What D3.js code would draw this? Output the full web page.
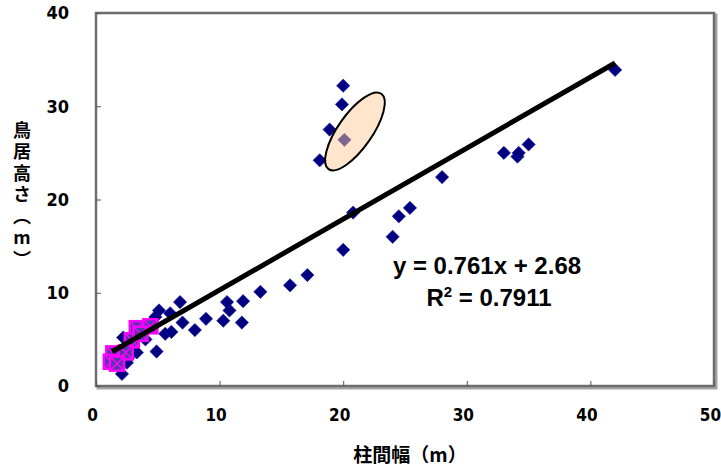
<!DOCTYPE html>
<html>
<head>
<meta charset="utf-8">
<script src="https://cdn.jsdelivr.net/npm/d3@7/dist/d3.min.js"></script>
<style>
  html, body { margin: 0; padding: 0; background: #fff; }
  svg { display: block; }
  .vtitle { writing-mode: vertical-rl; text-orientation: upright; }
</style>
</head>
<body>
<svg id="chart" width="721" height="470"></svg>
<script>
// Torii dimensions: column spacing (m) vs. height (m)
const shrineWidth  = [42.0, 33.0, 34.1, 34.2, 35.0, 28.0, 25.4, 24.5, 24.0, 20.8, 20.0,
                      20.0, 19.9, 18.9, 20.1, 18.1,
                      17.1, 15.7, 13.3, 11.9, 11.8, 10.8, 10.6, 10.3, 8.9, 8.0, 7.0, 6.8,
                      6.0, 5.1, 4.8, 5.6, 6.1, 4.9, 3.3, 2.2, 2.1, 2.6, 1.8, 3.0, 4.0, 1.6, 2.5];
const shrineHeight = [33.9, 25.0, 24.6, 25.0, 25.9, 22.4, 19.1, 18.2, 16.0, 18.6, 14.6,
                      32.2, 30.2, 27.5, 26.4, 24.2,
                      11.9, 10.8, 10.1, 9.1, 6.8, 8.1, 9.0, 7.0, 7.2, 6.0, 6.8, 9.0,
                      7.8, 8.1, 7.4, 5.6, 5.8, 3.7, 3.6, 5.2, 1.3, 3.0, 2.3, 4.3, 5.0, 2.8, 2.5];

// Second group, drawn with crossed square markers
const groupBWidth  = [3.3, 4.4, 1.4, 1.2, 2.9, 2.4, 1.7, 3.6];
const groupBHeight = [6.2, 6.4, 3.5, 2.6, 4.9, 3.6, 2.4, 5.6];

// Linear fit
const slope = 0.761;
const intercept = 2.68;
const rSquared = 0.7911;

const xTicks = [0, 10, 20, 30, 40, 50];
const yTicks = [0, 10, 20, 30, 40];

// Highlighted outlier group (centre in data units)
const highlightCenter = [20.95, 27.3];

const xLabel = "柱間幅（m）";
const yLabel = "鳥居高さ（m）";

const svg = d3.select("#chart");
const plot = { left: 96, right: 714, top: 13, bottom: 386 };

const x = d3.scaleLinear().domain([0, 50]).range([plot.left, plot.right]);
const y = d3.scaleLinear().domain([0, 40]).range([plot.bottom, plot.top]);

const tickFont = "'DejaVu Sans Condensed', 'Liberation Sans', Arial, sans-serif";

// Plot frame with drop shadow
svg.append("rect")
  .attr("x", plot.left + 2).attr("y", plot.top + 2)
  .attr("width", plot.right - plot.left).attr("height", plot.bottom - plot.top)
  .attr("fill", "none").attr("stroke", "#a6a6a6").attr("stroke-width", 3);
svg.append("rect")
  .attr("x", plot.left).attr("y", plot.top)
  .attr("width", plot.right - plot.left).attr("height", plot.bottom - plot.top)
  .attr("fill", "#fff").attr("stroke", "#6e6e6e").attr("stroke-width", 2.5);

// Axes (ticks inside the frame)
const xAxis = d3.axisBottom(x).tickValues(xTicks).tickSize(-5).tickFormat(d3.format("d"));
const yAxis = d3.axisLeft(y).tickValues(yTicks).tickSize(-5).tickFormat(d3.format("d"));

const gx = svg.append("g").attr("transform", `translate(0,${plot.bottom})`).call(xAxis);
gx.select(".domain").remove();
gx.selectAll(".tick line").attr("stroke", "#555").attr("stroke-width", 1);
gx.selectAll(".tick text")
  .attr("y", 23).attr("dy", "0.71em").attr("dx", -4)
  .attr("font-family", tickFont)
  .attr("font-weight", "bold").attr("font-size", 17).attr("fill", "#000");

const gy = svg.append("g").attr("transform", `translate(${plot.left},0)`).call(yAxis);
gy.select(".domain").remove();
gy.selectAll(".tick line").attr("stroke", "#555").attr("stroke-width", 1);
gy.selectAll(".tick text")
  .attr("x", -27)
  .attr("font-family", tickFont)
  .attr("font-weight", "bold").attr("font-size", 18).attr("fill", "#000");

// Diamonds
const diamond = d3.symbol().type(d3.symbolSquare).size(88);
svg.append("g").selectAll("path")
  .data(d3.zip(shrineWidth, shrineHeight))
  .join("path")
  .attr("d", diamond)
  .attr("transform", d => `translate(${x(d[0])},${y(d[1])}) rotate(45)`)
  .attr("fill", "#000080")
  .attr("stroke", "#1a1a9a").attr("stroke-width", 0.6);

// Crossed squares
const sq = 14;
const gB = svg.append("g").selectAll("g")
  .data(d3.zip(groupBWidth, groupBHeight))
  .join("g")
  .attr("transform", d => `translate(${x(d[0])},${y(d[1])})`);
gB.append("rect")
  .attr("x", -sq / 2).attr("y", -sq / 2).attr("width", sq).attr("height", sq)
  .attr("fill", "#4b3aa8").attr("stroke", "#ff00ff").attr("stroke-width", 2.5);
gB.append("path")
  .attr("d", `M${-sq/2},${-sq/2}L${sq/2},${sq/2}M${sq/2},${-sq/2}L${-sq/2},${sq/2}`)
  .attr("stroke", "#ff00ff").attr("stroke-width", 1.5);

// Fit line across the data range
const allX = shrineWidth.concat(groupBWidth);
const x0 = 1.3, x1 = d3.max(allX);
svg.append("line")
  .attr("x1", x(x0)).attr("y1", y(slope * x0 + intercept))
  .attr("x2", x(x1)).attr("y2", y(slope * x1 + intercept))
  .attr("stroke", "#000").attr("stroke-width", 5);

// Highlight ellipse around the outlier group
svg.append("ellipse")
  .attr("cx", 0).attr("cy", 0).attr("rx", 46).attr("ry", 17)
  .attr("transform", `translate(${x(highlightCenter[0])},${y(highlightCenter[1])}) rotate(-55)`)
  .attr("fill", "#ffcc99").attr("fill-opacity", 0.5)
  .attr("stroke", "#000").attr("stroke-width", 2);

// Equation and R²
const eq = svg.append("g")
  .attr("font-family", "'Liberation Sans', Arial, sans-serif")
  .attr("font-weight", "bold").attr("font-size", 24).attr("fill", "#000")
  .attr("text-anchor", "middle");
eq.append("text").attr("x", 487).attr("y", 274)
  .text(`y = ${slope}x + ${intercept}`);
const r2 = eq.append("text").attr("x", 489).attr("y", 306);
r2.append("tspan").text("R");
r2.append("tspan").attr("dy", -9).attr("font-size", 15).text("2");
r2.append("tspan").attr("dy", 9).text(` = ${rSquared}`);

// Axis titles
svg.append("text")
  .attr("x", 410).attr("y", 462)
  .attr("text-anchor", "middle")
  .attr("font-family", "'Noto Sans CJK JP', sans-serif")
  .attr("font-weight", "bold").attr("font-size", 19)
  .text(xLabel);

svg.append("text")
  .attr("class", "vtitle")
  .attr("x", 22).attr("y", 121)
  .attr("font-family", "'Noto Sans CJK JP', sans-serif")
  .attr("font-weight", "bold").attr("font-size", 18)
  .attr("letter-spacing", 3.5)
  .text(yLabel);
</script>
</body>
</html>
